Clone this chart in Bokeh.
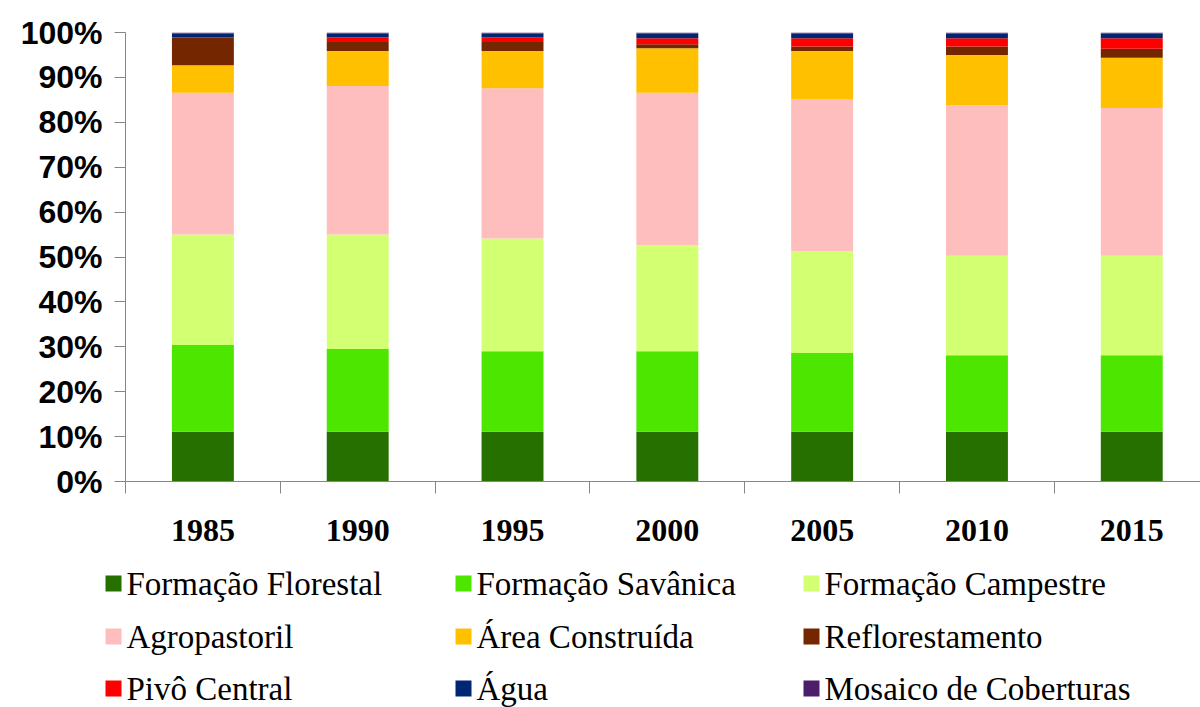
from bokeh.plotting import figure
from bokeh.models import ColumnDataSource, Range1d, FixedTicker, PrintfTickFormatter, LinearAxis, Label
from bokeh.layouts import column
from bokeh.embed import file_html
from bokeh.resources import INLINE

years = ["1985", "1990", "1995", "2000", "2005", "2010", "2015"]
classes = ["Formação Florestal", "Formação Savânica", "Formação Campestre",
           "Agropastoril", "Área Construída", "Reflorestamento",
           "Pivô Central", "Água", "Mosaico de Coberturas"]
colors = ["#267000", "#4ce600", "#d3ff73", "#ffbebe", "#ffc000",
          "#732600", "#ff0000", "#002673", "#4c1d6b"]

formacao_florestal = [11.1, 11.1, 11.1, 11.1, 11.1, 11.1, 11.1]
formacao_savanica = [19.3, 18.4, 17.9, 17.9, 17.5, 17.0, 17.0]
formacao_campestre = [24.6, 25.5, 25.1, 23.6, 22.7, 22.2, 22.2]
agropastoril = [31.6, 33.1, 33.5, 34.0, 33.9, 33.5, 32.9]
area_construida = [6.1, 7.8, 8.3, 9.9, 10.7, 11.2, 11.2]
reflorestamento = [6.2, 2.0, 2.0, 0.9, 1.0, 1.9, 2.0]
pivo_central = [0.0, 1.0, 1.0, 1.3, 1.8, 1.8, 2.3]
agua = [0.9, 0.9, 0.9, 1.1, 1.1, 1.1, 1.1]
mosaico = [0.2, 0.2, 0.2, 0.2, 0.2, 0.2, 0.2]

series = [formacao_florestal, formacao_savanica, formacao_campestre, agropastoril,
          area_construida, reflorestamento, pivo_central, agua, mosaico]
keys = ["s%d" % i for i in range(len(series))]

data = {"x": list(range(len(years)))}
for k, s in zip(keys, series):
    data[k] = s
source = ColumnDataSource(data)

W = 1200
H_MAIN = 555
LEFT = 125
p = figure(width=W, height=H_MAIN, output_backend="svg", toolbar_location=None,
           x_range=Range1d(-0.5, 6.444), y_range=Range1d(0, 100),
           min_border_left=LEFT, min_border_right=0, min_border_top=32,
           min_border_bottom=74, x_axis_type=None, y_axis_type=None)
p.outline_line_color = None
p.xgrid.visible = False
p.ygrid.visible = False

p.vbar_stack(keys, x="x", width=0.4, color=colors, line_color=None, source=source)

# y axis
yax = LinearAxis(ticker=FixedTicker(ticks=list(range(0, 101, 10))),
                 formatter=PrintfTickFormatter(format="%d%%"))
yax.axis_line_color = "#868686"
yax.major_tick_line_color = "#868686"
yax.major_tick_out = 11
yax.major_tick_in = 0
yax.minor_tick_line_color = None
yax.major_label_standoff = 12
yax.major_label_text_font = "Liberation Sans"
yax.major_label_text_font_style = "bold"
yax.major_label_text_font_size = "32px"
yax.major_label_text_color = "#000000"
p.add_layout(yax, "left")

# x axis: labels at centres, tick marks at category boundaries
xax = LinearAxis(ticker=FixedTicker(ticks=list(range(len(years))),
                                    minor_ticks=[i - 0.5 for i in range(len(years) + 1)]))
xax.major_label_overrides = {i: y for i, y in enumerate(years)}
xax.axis_line_color = "#868686"
xax.major_tick_line_color = None
xax.major_tick_out = 0
xax.major_tick_in = 0
xax.minor_tick_line_color = "#868686"
xax.minor_tick_out = 12
xax.minor_tick_in = 0
xax.major_label_standoff = 26
xax.major_label_text_font = "Liberation Serif"
xax.major_label_text_font_style = "bold"
xax.major_label_text_font_size = "32px"
xax.major_label_text_color = "#000000"
p.add_layout(xax, "below")

# legend panel
H_LEG = 152
lg = figure(width=W, height=H_LEG, output_backend="svg", toolbar_location=None,
            x_range=Range1d(0, W), y_range=Range1d(H_LEG, 0),
            min_border=0, x_axis_type=None, y_axis_type=None)
if "frame_align" in lg.properties():
    lg.frame_align = False
lg.outline_line_color = None
lg.xgrid.visible = False
lg.ygrid.visible = False

col_x = [105, 455, 803]
row_y = [28, 81, 133]
sq_x, sq_y = [], []
for i, name in enumerate(classes):
    c, r = i % 3, i // 3
    sq_x.append(col_x[c] + 8)
    sq_y.append(row_y[r])
    lg.add_layout(Label(x=col_x[c] + 21, y=row_y[r], text=name,
                        text_baseline="middle", text_align="left",
                        text_font="Liberation Serif", text_font_size="33px",
                        text_color="#000000"))
lsrc = ColumnDataSource(dict(sx=sq_x, sy=sq_y, color=colors))
lg.rect(x="sx", y="sy", width=16, height=16, fill_color="color", line_color=None, source=lsrc)

layout = column(p, lg, spacing=0)
open("out.html", "w").write(file_html(layout, INLINE))
